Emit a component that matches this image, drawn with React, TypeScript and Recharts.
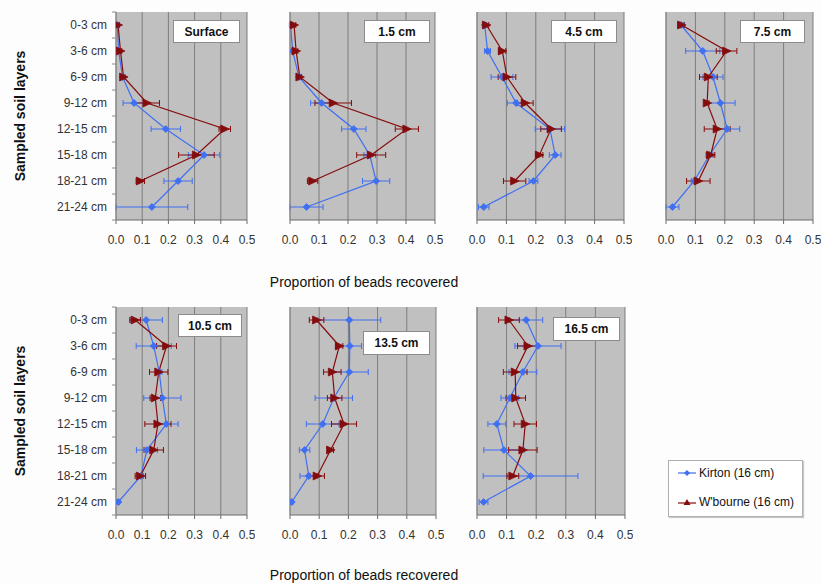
import React from 'react';
import { ComposedChart, Line, XAxis, YAxis, CartesianGrid, ErrorBar } from 'recharts';

const layers = ['0-3 cm', '3-6 cm', '6-9 cm', '9-12 cm', '12-15 cm', '15-18 cm', '18-21 cm', '21-24 cm'];
const xTicks = [0, 0.1, 0.2, 0.3, 0.4, 0.5];

// Surface
const surfaceKirton = [0.005, 0.01, 0.025, 0.069, 0.19, 0.336, 0.237, 0.137];
const surfaceKirtonErr = [0.005, 0.005, 0.006, 0.042, 0.056, 0.06, 0.054, 0.137];
const surfaceWbourne = [0.008, 0.017, 0.029, 0.118, 0.415, 0.307, 0.093, null];
const surfaceWbourneErr = [0.005, 0.005, 0.005, 0.048, 0.022, 0.068, 0.016, null];

// 1.5 cm
const d15Kirton = [0.002, 0.009, 0.031, 0.109, 0.22, 0.275, 0.297, 0.057];
const d15KirtonErr = [0.004, 0.004, 0.006, 0.038, 0.042, 0.02, 0.047, 0.057];
const d15Wbourne = [0.014, 0.021, 0.034, 0.149, 0.403, 0.28, 0.078, null];
const d15WbourneErr = [0.006, 0.006, 0.006, 0.063, 0.04, 0.05, 0.018, null];

// 4.5 cm
const d45Kirton = [0.026, 0.036, 0.085, 0.133, 0.248, 0.266, 0.192, 0.023];
const d45KirtonErr = [0.006, 0.01, 0.037, 0.03, 0.05, 0.02, 0.015, 0.018];
const d45Wbourne = [0.032, 0.086, 0.102, 0.164, 0.252, 0.212, 0.128, null];
const d45WbourneErr = [0.008, 0.012, 0.03, 0.027, 0.035, 0.012, 0.038, null];

// 7.5 cm
const d75Kirton = [0.051, 0.125, 0.16, 0.185, 0.208, 0.148, 0.096, 0.022];
const d75KirtonErr = [0.012, 0.058, 0.034, 0.05, 0.043, 0.012, 0.01, 0.022];
const d75Wbourne = [0.053, 0.206, 0.144, 0.14, 0.174, 0.152, 0.11, null];
const d75WbourneErr = [0.008, 0.035, 0.03, 0.006, 0.044, 0.014, 0.04, null];

// 10.5 cm
const d105Kirton = [0.115, 0.144, 0.165, 0.177, 0.192, 0.118, 0.095, 0.009];
const d105KirtonErr = [0.062, 0.067, 0.01, 0.071, 0.045, 0.04, 0.01, 0.004];
const d105Wbourne = [0.073, 0.193, 0.163, 0.15, 0.16, 0.144, 0.093, null];
const d105WbourneErr = [0.02, 0.038, 0.035, 0.02, 0.05, 0.037, 0.02, null];

// 13.5 cm
const d135Kirton = [0.203, 0.205, 0.203, 0.15, 0.112, 0.05, 0.064, 0.006];
const d135KirtonErr = [0.108, 0.04, 0.065, 0.064, 0.056, 0.018, 0.03, 0.004];
const d135Wbourne = [0.091, 0.169, 0.145, 0.153, 0.185, 0.139, 0.093, null];
const d135WbourneErr = [0.025, 0.012, 0.03, 0.025, 0.043, 0.01, 0.025, null];

// 16.5 cm
const d165Kirton = [0.166, 0.206, 0.155, 0.111, 0.067, 0.091, 0.181, 0.022];
const d165KirtonErr = [0.056, 0.078, 0.047, 0.03, 0.03, 0.068, 0.16, 0.015];
const d165Wbourne = [0.108, 0.172, 0.129, 0.131, 0.163, 0.155, 0.121, null];
const d165WbourneErr = [0.035, 0.035, 0.04, 0.033, 0.038, 0.048, 0.02, null];

const BLUE = '#3f6ff2';
const RED = '#850c0c';
const FONT = "'Liberation Sans', Arial, sans-serif";

const panels = [
  { label: 'Surface', k: surfaceKirton, kErr: surfaceKirtonErr, w: surfaceWbourne, wErr: surfaceWbourneErr, x0: 116, x1: 247, y0: 12, showY: true, box: { left: 173, top: 20, width: 67, height: 23 } },
  { label: '1.5 cm', k: d15Kirton, kErr: d15KirtonErr, w: d15Wbourne, wErr: d15WbourneErr, x0: 290, x1: 435, y0: 12, showY: false, box: { left: 364, top: 20, width: 66, height: 23 } },
  { label: '4.5 cm', k: d45Kirton, kErr: d45KirtonErr, w: d45Wbourne, wErr: d45WbourneErr, x0: 477, x1: 624, y0: 12, showY: false, box: { left: 551, top: 20, width: 66, height: 23 } },
  { label: '7.5 cm', k: d75Kirton, kErr: d75KirtonErr, w: d75Wbourne, wErr: d75WbourneErr, x0: 666, x1: 813, y0: 12, showY: false, box: { left: 740, top: 20, width: 65, height: 23 } },
  { label: '10.5 cm', k: d105Kirton, kErr: d105KirtonErr, w: d105Wbourne, wErr: d105WbourneErr, x0: 116, x1: 247, y0: 307, showY: true, box: { left: 178, top: 314, width: 64, height: 23 } },
  { label: '13.5 cm', k: d135Kirton, kErr: d135KirtonErr, w: d135Wbourne, wErr: d135WbourneErr, x0: 290, x1: 436, y0: 307, showY: false, box: { left: 363, top: 331, width: 67, height: 24 } },
  { label: '16.5 cm', k: d165Kirton, kErr: d165KirtonErr, w: d165Wbourne, wErr: d165WbourneErr, x0: 477, x1: 625, y0: 307, showY: false, box: { left: 553, top: 317, width: 67, height: 24 } },
];

const PLOT_H = 208;
const TOP_M = 4;
const X_AXIS_H = 40;
const HALF_BAND = 13;

const diamondDot = (props: any) => {
  const { cx, cy, index } = props;
  if (cx == null || cy == null) return <g key={`kd-${index}`} />;
  const r = 3.5;
  return (
    <path
      key={`kd-${index}`}
      d={`M${cx},${cy - r}L${cx + r},${cy}L${cx},${cy + r}L${cx - r},${cy}Z`}
      fill={BLUE}
      stroke={BLUE}
      strokeWidth={0.8}
    />
  );
};

const triangleDot = (props: any) => {
  const { cx, cy, index } = props;
  if (cx == null || cy == null) return <g key={`wt-${index}`} />;
  const r = 4;
  return (
    <path
      key={`wt-${index}`}
      d={`M${cx - r},${cy - r}L${cx + r + 0.5},${cy}L${cx - r},${cy + r}Z`}
      fill={RED}
      stroke={RED}
      strokeWidth={0.8}
    />
  );
};

const layerTick = (props: any) => {
  const { x, y, payload, index } = props;
  const axisX = x + 6 + 3;
  return (
    <g key={`yt-${index}`}>
      <text x={x} y={y} dy="0.355em" textAnchor="end" fontSize={12} fill="#333" fontFamily={FONT}>
        {payload.value}
      </text>
      {index === 0 && (
        <line x1={axisX - 4} y1={y - HALF_BAND} x2={axisX} y2={y - HALF_BAND} stroke="#8a8a8a" />
      )}
      <line x1={axisX - 4} y1={y + HALF_BAND} x2={axisX} y2={y + HALF_BAND} stroke="#8a8a8a" />
    </g>
  );
};

function Panel({ p }: { p: any }) {
  const data = layers.map((layer, i) => ({
    layer,
    k: p.k[i],
    kErr: p.kErr[i],
    w: p.w[i],
    wErr: p.wErr[i],
  }));
  const yAxisW = p.showY ? p.x0 : 12;
  const left = p.x0 - yAxisW;
  const width = yAxisW + (p.x1 - p.x0) + 8;
  const height = TOP_M + PLOT_H + X_AXIS_H;
  return (
    <div style={{ position: 'absolute', left, top: p.y0 - TOP_M }}>
      <ComposedChart
        layout="vertical"
        width={width}
        height={height}
        data={data}
        margin={{ top: TOP_M, right: 8, left: 0, bottom: 0 }}
      >
        <CartesianGrid horizontal={false} stroke="#7d7d7d" fill="#c0c0c0" />
        <XAxis
          type="number"
          dataKey="k"
          domain={[0, 0.5]}
          ticks={xTicks}
          allowDataOverflow
          height={X_AXIS_H}
          tickFormatter={(v: number) => v.toFixed(1)}
          tick={{ fontSize: 12, fill: '#333', fontFamily: FONT }}
          tickSize={4}
          tickMargin={11}
          stroke="#6a6a6a"
          interval={0}
        />
        <YAxis
          type="category"
          dataKey="layer"
          width={yAxisW}
          padding={{ top: HALF_BAND, bottom: HALF_BAND }}
          tick={p.showY ? layerTick : false}
          tickLine={false}
          tickSize={6}
          tickMargin={3}
          stroke="#8a8a8a"
          interval={0}
        />
        <Line
          dataKey="k"
          stroke={BLUE}
          strokeWidth={1.2}
          dot={diamondDot}
          activeDot={false}
          isAnimationActive={false}
        >
          <ErrorBar dataKey="kErr" direction="x" stroke={BLUE} strokeWidth={1} width={3} />
        </Line>
        <Line
          dataKey="w"
          stroke={RED}
          strokeWidth={1.2}
          dot={triangleDot}
          activeDot={false}
          isAnimationActive={false}
        >
          <ErrorBar dataKey="wErr" direction="x" stroke={RED} strokeWidth={1} width={3} />
        </Line>
      </ComposedChart>
      <div
        style={{
          position: 'absolute',
          left: p.box.left - left,
          top: p.box.top - (p.y0 - TOP_M),
          width: p.box.width,
          height: p.box.height,
          boxSizing: 'border-box',
          background: '#fff',
          border: '1px solid #8c8c8c',
          fontFamily: FONT,
          fontWeight: 'bold',
          fontSize: 12,
          color: '#111',
          display: 'flex',
          alignItems: 'center',
          justifyContent: 'center',
        }}
      >
        {p.label}
      </div>
    </div>
  );
}

const titleStyle: React.CSSProperties = {
  position: 'absolute',
  fontFamily: FONT,
  fontSize: 14,
  color: '#111',
  whiteSpace: 'nowrap',
};

export default function App() {
  return (
    <div
      style={{
        position: 'absolute',
        left: 0,
        top: 0,
        width: 822,
        height: 583,
        background: '#fdfdfd',
        overflow: 'hidden',
      }}
    >
      {panels.map((p) => (
        <Panel key={p.label} p={p} />
      ))}
      <div style={{ ...titleStyle, left: 364, top: 282, transform: 'translate(-50%, -50%)' }}>
        Proportion of beads recovered
      </div>
      <div style={{ ...titleStyle, left: 364, top: 575, transform: 'translate(-50%, -50%)' }}>
        Proportion of beads recovered
      </div>
      <div
        style={{
          ...titleStyle,
          fontWeight: 'bold',
          left: 20,
          top: 116,
          transform: 'translate(-50%, -50%) rotate(-90deg)',
        }}
      >
        Sampled soil layers
      </div>
      <div
        style={{
          ...titleStyle,
          fontWeight: 'bold',
          left: 20,
          top: 411,
          transform: 'translate(-50%, -50%) rotate(-90deg)',
        }}
      >
        Sampled soil layers
      </div>
      <div
        style={{
          position: 'absolute',
          left: 668,
          top: 460,
          width: 135,
          height: 57,
          boxSizing: 'border-box',
          background: '#fff',
          border: '1px solid #b0b0b0',
          boxShadow: '1px 1px 1px #c8c8c8',
          fontFamily: FONT,
          fontSize: 12,
          color: '#111',
        }}
      >
        <div style={{ position: 'absolute', left: 9, top: 5, display: 'flex', alignItems: 'center' }}>
          <svg width={18} height={10}>
            <line x1={0} y1={5} x2={18} y2={5} stroke={BLUE} strokeWidth={1.2} />
            <path d="M9,2L12,5L9,8L6,5Z" fill={BLUE} />
          </svg>
          <span style={{ marginLeft: 3 }}>Kirton (16 cm)</span>
        </div>
        <div style={{ position: 'absolute', left: 9, top: 34, display: 'flex', alignItems: 'center' }}>
          <svg width={18} height={10}>
            <line x1={0} y1={6} x2={18} y2={6} stroke={RED} strokeWidth={1.2} />
            <path d="M9,2L12.5,8L5.5,8Z" fill={RED} />
          </svg>
          <span style={{ marginLeft: 3 }}>W'bourne (16 cm)</span>
        </div>
      </div>
    </div>
  );
}
